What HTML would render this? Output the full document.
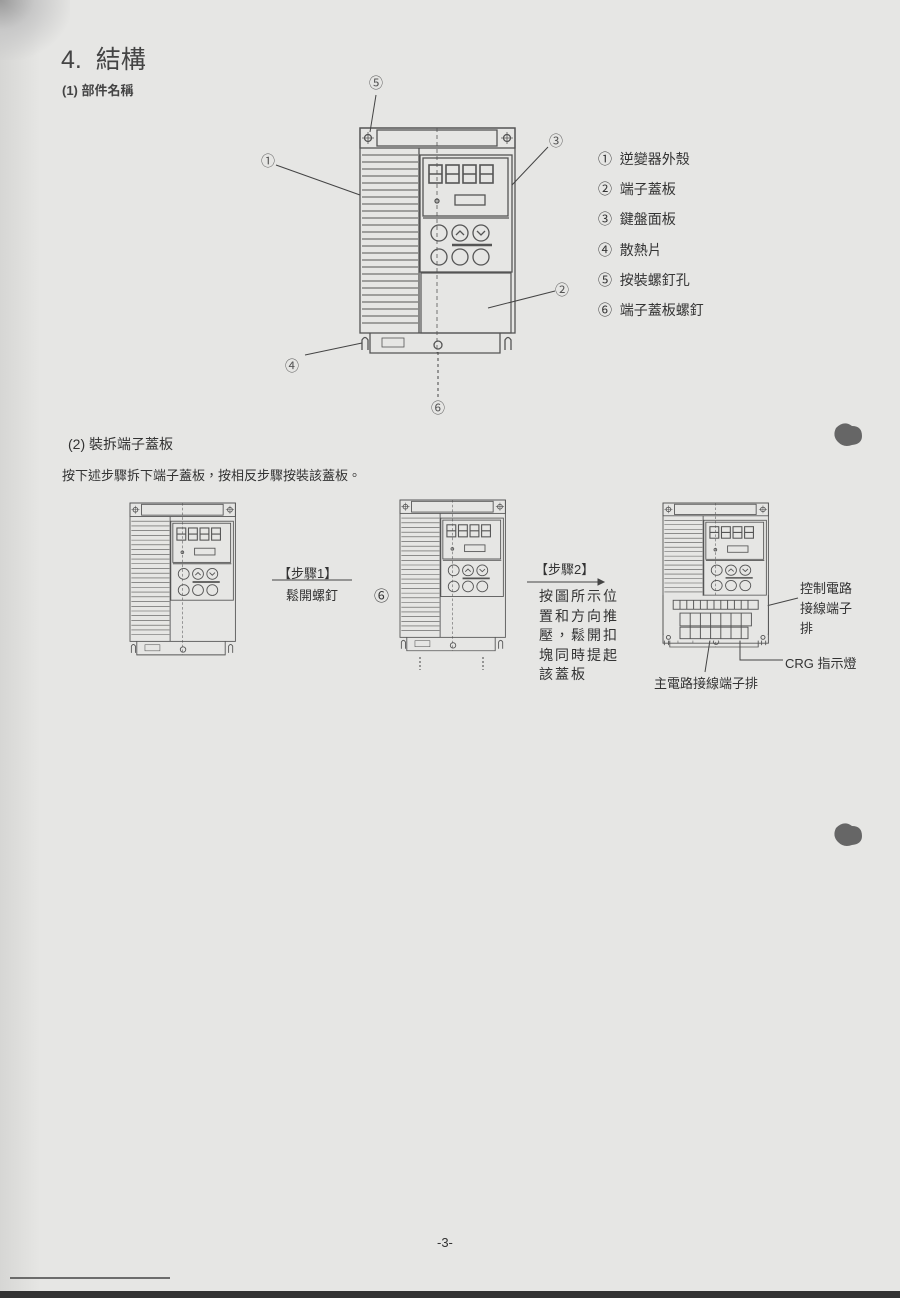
<!DOCTYPE html>
<html><head><meta charset="utf-8">
<style>
html,body{margin:0;padding:0}
body{width:900px;height:1298px;background:#e6e6e4;position:relative;overflow:hidden;font-family:"Liberation Sans","Noto Sans CJK TC",sans-serif;color:#333}
.t{position:absolute;white-space:nowrap}
.cj{font-family:"Liberation Sans","Noto Sans CJK TC",sans-serif}
</style></head><body>
<div style="position:absolute;left:0;top:0;width:40px;height:1298px;background:linear-gradient(90deg,#d6d6d4,#e6e6e4)"></div>
<div style="position:absolute;left:0;top:0;width:70px;height:60px;background:radial-gradient(ellipse at 0 0,#9a9a9a 0,#c8c8c8 35%,rgba(230,230,228,0) 75%)"></div>
<div class="t" style="left:61px;top:40px;font-size:25px;color:#444">4.&nbsp; 結構</div>
<div class="t" style="left:62px;top:80px;font-size:13px;font-weight:bold;color:#444">(1) 部件名稱</div>

<svg width="900" height="1298" style="position:absolute;left:0;top:0" xmlns="http://www.w3.org/2000/svg">
<defs>
<g id="dev" fill="none" stroke="#555" stroke-width="1.3">
  <rect x="0" y="0" width="155" height="205"/>
  <rect x="0" y="0" width="155" height="20"/>
  <rect x="17" y="2" width="120" height="16"/>
  <circle cx="8" cy="10" r="3.5"/><circle cx="147" cy="10" r="3.5"/>
  <path d="M8 4v12M2 10h12M147 4v12M141 10h12" stroke-width="0.8"/>
  <path d="M2 27h56M2 34h56M2 41h56M2 48h56M2 55h56M2 62h56M2 69h56M2 76h56M2 83h56M2 90h56M2 97h56M2 104h56M2 111h56M2 118h56M2 125h56M2 132h56M2 139h56M2 146h56M2 153h56M2 160h56M2 167h56M2 174h56M2 181h56M2 188h56M2 195h56" stroke-width="0.9"/>
  <path d="M59 20v185"/>
  <rect x="60" y="27" width="92" height="117"/>
  <rect x="63" y="30" width="85" height="58"/>
  <path d="M63 90h86"/>
  <g stroke-width="1.6">
   <rect x="69" y="37" width="13" height="18"/><rect x="86" y="37" width="13" height="18"/>
   <rect x="103" y="37" width="13" height="18"/><rect x="120" y="37" width="13" height="18"/>
   <path d="M69 46h13M86 46h13M103 46h13M120 46h13"/>
  </g>
  <rect x="95" y="67" width="30" height="10"/>
  <circle cx="77" cy="73" r="2"/>
  <circle cx="79" cy="105" r="8"/><circle cx="100" cy="105" r="8"/><circle cx="121" cy="105" r="8"/>
  <path d="M96 107l4-4 4 4M117 103l4 4 4-4"/>
  <circle cx="79" cy="129" r="8"/><circle cx="100" cy="129" r="8"/><circle cx="121" cy="129" r="8"/>
  <path d="M92 117h40" stroke-width="2.5"/>
  <path d="M10 205v20h130v-20"/>
  <circle cx="78" cy="217" r="4"/>
  <rect x="22" y="210" width="22" height="9" stroke-width="0.8"/>
  <path d="M2 222v-10q3-5 6 0v10M145 222v-10q3-5 6 0v10"/>
  <path d="M77 0v225" stroke-dasharray="4 3" stroke-width="0.8"/>
</g>
</defs>

<!-- main device -->
<use href="#dev" transform="translate(360,128)"/>
<rect x="421" y="273" width="90" height="60" fill="none" stroke="#555" stroke-width="1.2"/>
<g stroke="#444" stroke-width="1" fill="none">
 <line x1="376" y1="95" x2="370" y2="132"/>
 <line x1="276" y1="165" x2="360" y2="195"/>
 <line x1="548" y1="147" x2="512" y2="185"/>
 <line x1="555" y1="291" x2="488" y2="308"/>
 <line x1="305" y1="355" x2="362" y2="343"/>
 <line x1="438" y1="352" x2="438" y2="398" stroke-dasharray="3 3"/>
 <line x1="272" y1="580" x2="352" y2="580"/>
 <line x1="527" y1="582" x2="602" y2="582"/>
 <path d="M598 579l6 3-6 3z" fill="#444"/>
 <line x1="420" y1="657" x2="420" y2="670" stroke-dasharray="2 2"/>
 <line x1="483" y1="657" x2="483" y2="670" stroke-dasharray="2 2"/>
 <line x1="762" y1="607" x2="798" y2="598"/>
 <path d="M740 640v20h43"/>
 <line x1="710" y1="640" x2="705" y2="672"/>
</g>

<!-- step devices -->
<use href="#dev" transform="translate(130,503) scale(0.68,0.675)"/>
<use href="#dev" transform="translate(400,500) scale(0.68,0.67)"/>
<g transform="translate(663,503) scale(0.68,0.64)">
 <use href="#dev"/>
 <rect x="1" y="145" width="153" height="70" fill="#e6e6e4"/>
 <g fill="none" stroke="#555" stroke-width="1.4">
  <path d="M0 144v75h155v-75"/>
  <rect x="15" y="152" width="125" height="14"/>
  <path d="M25 152v14M35 152v14M45 152v14M55 152v14M65 152v14M75 152v14M85 152v14M95 152v14M105 152v14M115 152v14M125 152v14"/>
  <rect x="25" y="172" width="105" height="20"/>
  <rect x="25" y="194" width="100" height="18"/>
  <path d="M40 172v40M55 172v40M70 172v40M85 172v40M100 172v40M115 172v40"/>
  <circle cx="8" cy="210" r="3"/><circle cx="147" cy="210" r="3"/>
 </g>
</g>
<!-- blobs -->
<path d="M836 428q8-8 16-2q10 0 10 10q0 8-10 9q-8 3-14-3q-6-6-2-14z" fill="#666"/>
<path d="M836 828q8-8 16-2q10 0 10 10q0 8-10 9q-8 3-14-3q-6-6-2-14z" fill="#666"/>
<line x1="10" y1="1278" x2="170" y2="1278" stroke="#444" stroke-width="1.5"/>
</svg>

<div class="t" style="left:261px;top:151px;font-size:14px;color:#555">①</div>
<div class="t" style="left:549px;top:131px;font-size:14px;color:#555">③</div>
<div class="t" style="left:555px;top:280px;font-size:14px;color:#555">②</div>
<div class="t" style="left:285px;top:356px;font-size:14px;color:#555">④</div>
<div class="t" style="left:369px;top:73px;font-size:14px;color:#555">⑤</div>
<div class="t" style="left:431px;top:398px;font-size:14px;color:#555">⑥</div>

<div class="t" style="left:598px;top:144px;font-size:14px;line-height:30.2px;color:#333">
①&nbsp; 逆變器外殼<br>②&nbsp; 端子蓋板<br>③&nbsp; 鍵盤面板<br>④&nbsp; 散熱片<br>⑤&nbsp; 按裝螺釘孔<br>⑥&nbsp; 端子蓋板螺釘</div>

<div class="t" style="left:68px;top:434px;font-size:14px">(2) 裝拆端子蓋板</div>
<div class="t" style="left:62px;top:465px;font-size:13px">按下述步驟拆下端子蓋板，按相反步驟按裝該蓋板。</div>

<div class="t" style="left:278px;top:563px;font-size:13px">【步驟1】</div>
<div class="t" style="left:286px;top:585px;font-size:13px">鬆開螺釘</div>
<div class="t" style="left:374px;top:585px;font-size:15px">⑥</div>
<div class="t" style="left:535px;top:559px;font-size:13px">【步驟2】</div>
<div class="t" style="left:539px;top:587px;font-size:14px;line-height:19.5px;letter-spacing:2px">按圖所示位<br>置和方向推<br>壓，鬆開扣<br>塊同時提起<br>該蓋板</div>
<div class="t" style="left:800px;top:579px;font-size:13px;line-height:20px">控制電路<br>接線端子<br>排</div>
<div class="t" style="left:785px;top:653px;font-size:13px">CRG 指示燈</div>
<div class="t" style="left:654px;top:673px;font-size:13px">主電路接線端子排</div>
<div class="t" style="left:437px;top:1235px;font-size:13px">-3-</div>
<div style="position:absolute;left:0;top:1291px;width:900px;height:7px;background:#333"></div>
</body></html>
